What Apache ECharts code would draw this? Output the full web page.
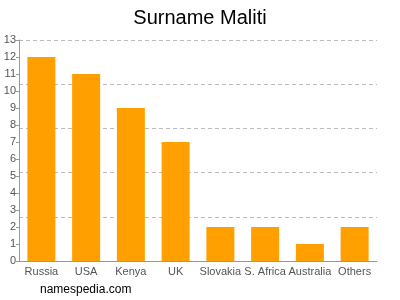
<!DOCTYPE html>
<html><head><meta charset="utf-8">
<script src="https://cdn.jsdelivr.net/npm/echarts@6/dist/echarts.min.js"></script>
<style>html,body{margin:0;padding:0;background:#fff}#c{width:400px;height:300px}</style>
</head><body><div id="c"></div>
<script>
const categories = ["Russia","USA","Kenya","UK","Slovakia","S. Africa","Australia","Others"];
const values = [12, 11, 9, 7, 2, 2, 1, 2];
const yMax = 13;
const gridStep = 2.6;

const chart = echarts.init(document.getElementById('c'), null, {renderer:'canvas'});
chart.setOption({
  animation:false,
  title:{text:"Surname Maliti", left:'center', top:3,
    textStyle:{fontFamily:'Liberation Sans, Arial', fontSize:20, fontWeight:'normal', color:'#000'}},
  graphic:[{type:'text', left:40, top:284, style:{text:'namespedia.com', font:'12px "Liberation Sans", Arial', fill:'#000'}}],
  grid:{left:19, right:23, top:40, bottom:39, containLabel:false},
  xAxis:{type:'category', data:categories,
    axisLine:{lineStyle:{color:'#999'}},
    axisTick:{alignWithLabel:true, length:4, lineStyle:{color:'#999'}},
    axisLabel:{color:'#555', fontSize:11, fontFamily:'Liberation Sans, Arial', margin:5, interval:0}},
  yAxis:[{type:'value', min:0, max:yMax, interval:1,
    axisLine:{show:true, lineStyle:{color:'#999'}},
    axisTick:{show:true, length:3, lineStyle:{color:'#999'}},
    splitLine:{show:false},
    axisLabel:{color:'#555', fontSize:11, fontFamily:'Liberation Sans, Arial', margin:3}},
   {type:'value', min:0, max:yMax, interval:gridStep, position:'left',
    axisLine:{show:false}, axisTick:{show:false}, axisLabel:{show:false},
    splitLine:{show:true, lineStyle:{color:'#bbb', type:[4,3]}}}],
  series:[{type:'bar', data:values, barWidth:28, itemStyle:{color:'#ffa000'}, yAxisIndex:0}]
});
</script></body></html>
